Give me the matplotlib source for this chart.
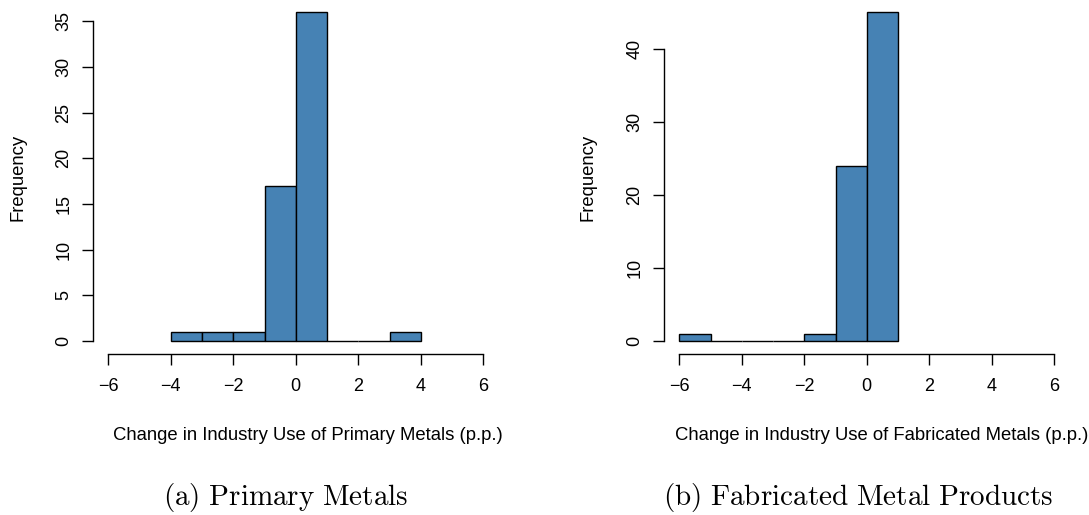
import numpy as np
import matplotlib
matplotlib.use("Agg")
import matplotlib.pyplot as plt

plt.rcParams['font.family'] = ['Liberation Sans', 'DejaVu Sans']
plt.rcParams['mathtext.fontset'] = 'cm'

# histogram bins (left edges) and counts
primary_edges = [-4, -3, -2, -1, 0, 1, 2, 3]
primary_counts = [1, 1, 1, 17, 36, 0, 0, 1]
fab_edges = [-6, -5, -4, -3, -2, -1, 0]
fab_counts = [1, 0, 0, 0, 1, 24, 45]

xticks = [-6, -4, -2, 0, 2, 4, 6]
primary_yticks = [0, 5, 10, 15, 20, 25, 30, 35]
fab_yticks = [0, 10, 20, 30, 40]

xlabels = ["Change in Industry Use of Primary Metals (p.p.)",
           "Change in Industry Use of Fabricated Metals (p.p.)"]
captions = [r"$\mathrm{(a)\ Primary\ Metals}$",
            r"$\mathrm{(b)\ Fabricated\ Metal\ Products}$"]

W, H = 1089, 515
fig = plt.figure(figsize=(W / 100, H / 100), dpi=100)


def r_hist(left_px, edges, counts, yticks, ymax):
    # R pads the axis range by 4% on each side
    xl = (-6 - 0.48, 6 + 0.48)
    yl = (-0.04 * ymax, ymax * 1.04)
    ax = fig.add_axes([left_px / W, (H - 354.2) / H, 405 / W, 355.4 / H])
    ax.bar(edges, counts, width=1, align='edge', color='#4682B4',
           edgecolor='black', linewidth=1.0)
    ax.set_xlim(*xl)
    ax.set_ylim(*yl)
    for s in ['top', 'right']:
        ax.spines[s].set_visible(False)
    ax.spines['left'].set_bounds(yticks[0], yticks[-1])
    ax.spines['bottom'].set_bounds(xticks[0], xticks[-1])
    for s in ['left', 'bottom']:
        ax.spines[s].set_linewidth(1.0)
    ax.set_xticks(xticks)
    ax.set_xticklabels([str(t).replace('-', '\u2212') for t in xticks])
    ax.set_yticks(yticks)
    ax.tick_params(direction='out', length=8, width=1.0, labelsize=13)
    ax.tick_params(axis='x', pad=9)
    ax.tick_params(axis='y', pad=7, labelrotation=90)
    for lab in ax.get_yticklabels():
        lab.set_va('center')
    ax.patch.set_visible(False)
    return ax


ax1 = r_hist(93.3, primary_edges, primary_counts, primary_yticks, 36)
ax2 = r_hist(664.3, fab_edges, fab_counts, fab_yticks, 45)

fig.text(18 / W, 1 - 177 / H, "Frequency", rotation=90, ha='center', va='center', fontsize=13.3)
fig.text(588 / W, 1 - 177 / H, "Frequency", rotation=90, ha='center', va='center', fontsize=13.3)

fig.text(307.5 / W, 1 - 436 / H, xlabels[0], ha='center', va='center', fontsize=13.3)
fig.text(882 / W, 1 - 436 / H, xlabels[1], ha='center', va='center', fontsize=13.3)

fig.text(286 / W, 1 - 497 / H, captions[0], ha='center', va='center', fontsize=21)
fig.text(858 / W, 1 - 497 / H, captions[1], ha='center', va='center', fontsize=21)

fig.savefig("out.png", dpi=100)
